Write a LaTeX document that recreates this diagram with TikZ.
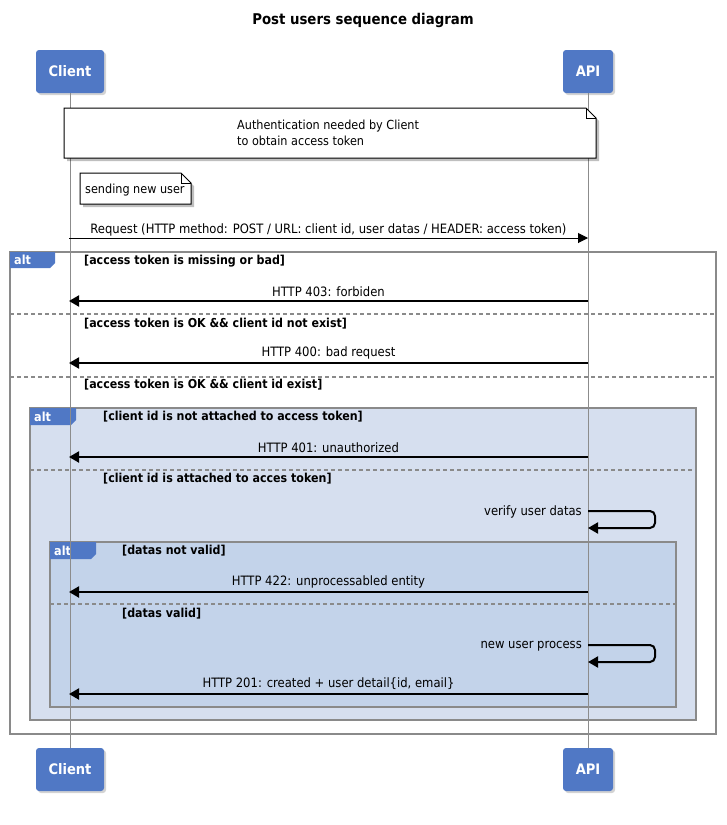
\documentclass[tikz,border=0pt]{standalone}
\usepackage{fontspec}
\setmainfont{DejaVu Sans Condensed}
\usetikzlibrary{arrows.meta,shadows}
\definecolor{actorblue}{HTML}{5078C5}
\definecolor{frameone}{HTML}{D6DFEF}
\definecolor{frametwo}{HTML}{C3D3EA}
\definecolor{framegray}{HTML}{8A8A8A}
\definecolor{lifegray}{HTML}{8C8C8C}

\begin{document}
\begin{tikzpicture}[x=1pt,y=-1pt,
  actor/.style={draw=none, fill=actorblue, rounded corners=3pt, text=white,
    font=\bfseries\fontsize{14.5}{16}\selectfont, minimum height=43pt, inner sep=0pt,
    drop shadow={shadow xshift=2pt, shadow yshift=-2pt, opacity=0.35}},
  lifeline/.style={draw=lifegray, line width=1pt},
  frame/.style={draw=framegray, line width=1.5pt},
  sep/.style={draw=framegray, line width=1.2pt, dash pattern=on 4pt off 3pt},
  tab/.style={fill=actorblue},
  tablbl/.style={text=white, font=\bfseries\fontsize{12.5}{14}\selectfont, anchor=west, inner sep=0pt},
  cond/.style={font=\bfseries\fontsize{12.3}{14}\selectfont, anchor=west, inner sep=0pt},
  lbl/.style={font=\fontsize{12.9}{16}\selectfont, inner sep=0pt},
  notelbl/.style={font=\fontsize{12.5}{16}\selectfont, inner sep=0pt},
  req/.style={line width=1pt, -{Triangle[length=10pt,width=10pt]}},
  resp/.style={line width=2pt, -{Triangle[length=10pt,width=11pt]}},
  notebox/.style={draw=black, line width=1pt, fill=white},
  noteshadow/.style={fill=black, opacity=0.25}
]
\useasboundingbox (0,0) rectangle (726,825);

% title
\node[font=\bfseries\fontsize{14.8}{17}\selectfont] (title) at (363,20) {Post users sequence diagram};

% participants
\node[actor, minimum width=68pt] (ctop) at (70,71.5) {Client};
\node[actor, minimum width=50pt] (atop) at (588,71.5) {API};
\node[actor, minimum width=68pt] (cbot) at (70,769.5) {Client};
\node[actor, minimum width=50pt] (abot) at (588,769.5) {API};

% combined fragments
\draw[frame] (10,252) rectangle (716,734);
\draw[frame, fill=frameone] (30,408) rectangle (696,720);
\draw[frame, fill=frametwo] (50,542) rectangle (676,707);

\draw[sep] (10,314) -- (716,314);
\draw[sep] (10,377) -- (716,377);
\draw[sep] (30,470) -- (696,470);
\draw[sep] (50,604) -- (676,604);

\fill[tab] (10,252) -- (55,252) -- (55,263) -- (50,268) -- (10,268) -- cycle;
\node[tablbl] (alt1) at (14,260) {alt};
\fill[tab] (30,408) -- (76,408) -- (76,420) -- (71,425) -- (30,425) -- cycle;
\node[tablbl] (alt2) at (34,416.5) {alt};
\fill[tab] (50,542) -- (96,542) -- (96,554) -- (91,559) -- (50,559) -- cycle;
\node[tablbl] (alt3) at (54,550.5) {alt};

\node[cond] (g1) at (84,261) {[access token is missing or bad]};
\node[cond] (g2) at (84,324) {[access token is OK \&\& client id not exist]};
\node[cond] (g3) at (84,385) {[access token is OK \&\& client id exist]};
\node[cond] (g4) at (103,417) {[client id is not attached to access token]};
\node[cond] (g5) at (103,479) {[client id is attached to acces token]};
\node[cond] (g6) at (122,551) {[datas not valid]};
\node[cond] (g7) at (122,614) {[datas valid]};

% lifelines
\draw[lifeline] (ctop) -- (cbot);
\draw[lifeline] (atop) -- (abot);

% notes
\fill[noteshadow] (67,111) -- (589,111) -- (599,121) -- (599,161) -- (67,161) -- cycle;
\draw[notebox] (64,108) -- (586,108) -- (596,118) -- (596,158) -- (64,158) -- cycle;
\draw[line width=0.8pt] (586,108) -- (586,118) -- (596,118);
\node[notelbl, anchor=west, align=left] (auth) at (237,133) {Authentication needed by Client\\to obtain access token};

\fill[noteshadow] (83,176) -- (184,176) -- (194,186) -- (194,207) -- (83,207) -- cycle;
\draw[notebox] (80,173) -- (181,173) -- (191,183) -- (191,204) -- (80,204) -- cycle;
\draw[line width=0.8pt] (181,173) -- (181,183) -- (191,183);
\node[notelbl, anchor=west] (send) at (85,190) {sending new user};

% message end points
\coordinate (creq) at (69,238);  \coordinate (areq) at (588,238);
\coordinate (c403) at (69,301);  \coordinate (a403) at (588,301);
\coordinate (c400) at (69,363);  \coordinate (a400) at (588,363);
\coordinate (c401) at (69,457);  \coordinate (a401) at (588,457);
\coordinate (c422) at (69,592);  \coordinate (a422) at (588,592);
\coordinate (c201) at (69,694);  \coordinate (a201) at (588,694);
\coordinate (v1) at (588,511);   \coordinate (v2) at (588,528);
\coordinate (n1) at (588,645);   \coordinate (n2) at (588,662);

% messages
\draw[req] (creq) -- node[lbl, above=1.5pt] {Request (HTTP method: POST / URL: client id, user datas / HEADER: access token)} (areq);
\draw[resp] (a403) -- node[lbl, above=3pt] {HTTP 403: forbiden} (c403);
\draw[resp] (a400) -- node[lbl, above=3pt] {HTTP 400: bad request} (c400);
\draw[resp] (a401) -- node[lbl, above=3pt] {HTTP 401: unauthorized} (c401);
\draw[resp] (a422) -- node[lbl, above=3pt] {HTTP 422: unprocessabled entity} (c422);
\draw[resp] (a201) -- node[lbl, above=3pt] {HTTP 201: created + user detail\{id, email\}} (c201);

\draw[resp, rounded corners=5pt] (v1) -- ++(67,0) -- ++(0,17) -- (v2);
\node[lbl, anchor=east] (verify) at (582,512) {verify user datas};
\draw[resp, rounded corners=5pt] (n1) -- ++(67,0) -- ++(0,17) -- (n2);
\node[lbl, anchor=east] (newuser) at (582,646) {new user process};
\end{tikzpicture}
\end{document}
